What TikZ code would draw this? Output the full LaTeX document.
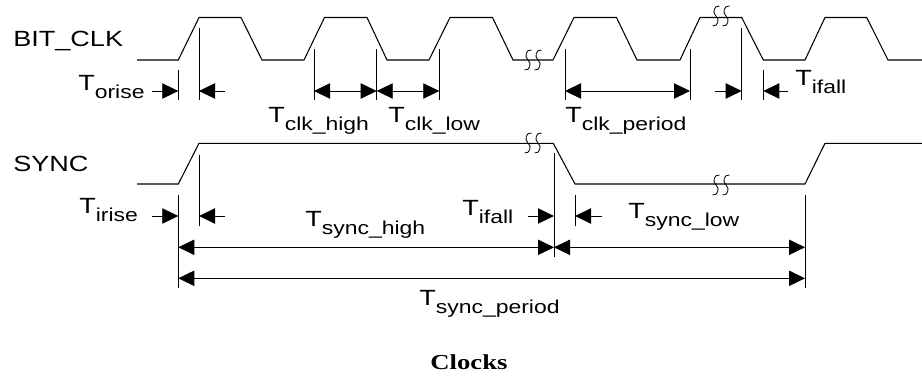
\documentclass[tikz,border=0pt]{standalone}
\usepackage{fontspec}
\setmainfont[FakeStretch=1.23]{Liberation Sans}
\newfontfamily\capfont[FakeStretch=1.25]{Liberation Serif}
\usetikzlibrary{arrows.meta}
\newcommand{\tlab}[1]{T\raisebox{-5.5pt}{\fontsize{14}{14}\selectfont #1}}

\begin{document}
\begin{tikzpicture}[x=0.75pt,y=-0.75pt,
   wave/.style={line width=0.8pt,line join=miter},
   tick/.style={line width=0.6pt},
   dim/.style={line width=0.6pt,-{Triangle[length=12pt,width=11.5pt]}},
   ddim/.style={line width=0.6pt,{Triangle[length=12pt,width=11.5pt]}-{Triangle[length=12pt,width=11.5pt]}},
   lab/.style={inner sep=0pt,font=\fontsize{16.5}{18}\selectfont,anchor=base west}]
   \useasboundingbox (0,0) rectangle (922,377);
   % signals
   \draw[wave] (137,60) -- (178.3,60) -- (199,17.5) -- (241,17.5) -- (262,60)
    -- (304,60) -- (324.5,17.5) -- (367,17.5) -- (387,60) -- (429,60)
    -- (450,17.5) -- (492.5,17.5) -- (513,60) -- (553,60) -- (574,17.5)
    -- (616.5,17.5) -- (637,60) -- (680,60) -- (700,17.5) -- (741.7,17.5)
    -- (763.3,60) -- (805,60) -- (825,17.5) -- (866.7,17.5) -- (888,60) -- (922,60);
   \draw[wave] (137,184) -- (178.3,184) -- (199,143.3) -- (553.3,143.3)
    -- (575,184) -- (805,184) -- (825,143.3) -- (922,143.3);
   % break marks
   \foreach \x/\y in {528/60,538/60,716/16,726/16,528/143,538/143,716/185,726/185}
    \draw[tick,shift={(\x,\y)}] (3.5,-10) .. controls (-2,-11) and (-4,-3) .. (0,0)
     .. controls (4,3) and (2,11) .. (-3.5,10);
   % marker lines
   \draw[tick] (178.3,70) -- (178.3,100);
   \draw[tick] (199,28) -- (199,100);
   \foreach \x in {314,376.7,439.3,565,690}
    \draw[tick] (\x,49) -- (\x,100);
   \draw[tick] (741.7,28) -- (741.7,100);
   \draw[tick] (763.3,70) -- (763.3,100);
   \draw[tick] (178.3,195) -- (178.3,288);
   \draw[tick] (199,155) -- (199,226);
   \draw[tick] (554,153) -- (554,256.7);
   \draw[tick] (575,195) -- (575,226);
   \draw[tick] (805,195) -- (805,288);
   % timing arrows
   \draw[dim] (152,91) -- (178.3,91);
   \draw[dim] (225,91) -- (199,91);
   \draw[ddim] (314,91) -- (376.7,91);
   \draw[ddim] (376.7,91) -- (439.3,91);
   \draw[ddim] (565,91) -- (690,91);
   \draw[dim] (715,91) -- (741.7,91);
   \draw[dim] (788,91) -- (763.3,91);
   \draw[dim] (152,216) -- (178.3,216);
   \draw[dim] (225,216) -- (199,216);
   \draw[dim] (528,216) -- (554,216);
   \draw[dim] (601.7,216) -- (575,216);
   \draw[ddim] (178.3,247.3) -- (554,247.3);
   \draw[ddim] (554,247.3) -- (805,247.3);
   \draw[ddim] (178.3,278.3) -- (805,278.3);
   % labels
   \node[lab] (bitclk) at (13,47) {BIT\_CLK};
   \node[lab] (sync) at (13,172) {SYNC};
   \node[lab] (orise) at (78,91) {\tlab{orise}};
   \node[lab] (clkhigh) at (268,123) {\tlab{clk\_high}};
   \node[lab] (clklow) at (388,123) {\tlab{clk\_low}};
   \node[lab] (clkperiod) at (565,123) {\tlab{clk\_period}};
   \node[lab] (ifalla) at (795,86) {\tlab{ifall}};
   \node[lab] (irise) at (79,214) {\tlab{irise}};
   \node[lab] (synchigh) at (305,227) {\tlab{sync\_high}};
   \node[lab] (ifallb) at (462,216) {\tlab{ifall}};
   \node[lab] (synclow) at (628,219) {\tlab{sync\_low}};
   \node[lab] (syncperiod) at (419,306) {\tlab{sync\_period}};
   \node[inner sep=0pt,anchor=base,font=\capfont\bfseries\fontsize{16}{18}\selectfont]
    (caption) at (469,370) {Clocks};
\end{tikzpicture}
\end{document}
